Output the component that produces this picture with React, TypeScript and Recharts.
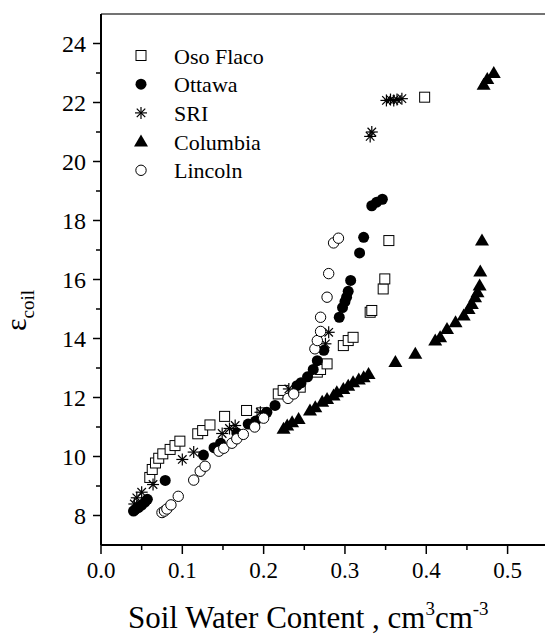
import { Legend, ReferenceLine, Scatter, ScatterChart, XAxis, YAxis } from "recharts";

const SERIF = "'Liberation Serif', 'Times New Roman', serif";

// soil water content (cm3/cm3), permittivity
const osoFlaco: [number, number][] = [
  [0.06, 9.29], [0.063, 9.56], [0.067, 9.78], [0.071, 9.94], [0.076, 10.09], [0.085, 10.24],
  [0.091, 10.37], [0.097, 10.52], [0.119, 10.77], [0.125, 10.88], [0.134, 11.07], [0.152, 11.36],
  [0.179, 11.56], [0.198, 11.48], [0.218, 12.12], [0.224, 12.24], [0.245, 12.35], [0.266, 12.86],
  [0.27, 12.95], [0.278, 13.14], [0.298, 13.76], [0.304, 13.93], [0.31, 14.04], [0.331, 14.89],
  [0.333, 14.95], [0.347, 15.68], [0.349, 16.02], [0.354, 17.32], [0.398, 22.18],
];
const ottawa: [number, number][] = [
  [0.04, 8.15], [0.042, 8.2], [0.046, 8.27], [0.05, 8.35], [0.054, 8.45], [0.057, 8.55],
  [0.079, 9.19], [0.126, 10.05], [0.139, 10.3], [0.147, 10.45], [0.167, 10.8], [0.181, 11.1],
  [0.19, 11.2], [0.204, 11.5], [0.214, 11.73], [0.241, 12.4], [0.246, 12.5], [0.254, 12.7],
  [0.261, 12.95], [0.266, 13.25], [0.274, 13.6], [0.293, 14.72], [0.297, 15.05], [0.3, 15.25],
  [0.302, 15.4], [0.304, 15.6], [0.307, 15.97], [0.318, 16.9], [0.323, 17.43], [0.333, 18.5],
  [0.339, 18.62], [0.346, 18.72],
];
const sri: [number, number][] = [
  [0.041, 8.39], [0.044, 8.6], [0.05, 8.79], [0.064, 9.05], [0.1, 9.9], [0.114, 10.15],
  [0.149, 10.78], [0.158, 10.95], [0.165, 11.05], [0.196, 11.5], [0.231, 12.29], [0.276, 13.82],
  [0.28, 14.21], [0.331, 20.85], [0.333, 21.0], [0.351, 22.07], [0.356, 22.1], [0.36, 22.07],
  [0.364, 22.1], [0.37, 22.13],
];
const columbia: [number, number][] = [
  [0.2245, 10.94], [0.229, 11.05], [0.235, 11.16], [0.243, 11.27], [0.257, 11.56], [0.2635, 11.67],
  [0.272, 11.86], [0.278, 11.95], [0.286, 12.07], [0.29, 12.18], [0.298, 12.29], [0.304, 12.4],
  [0.31, 12.52], [0.317, 12.61], [0.323, 12.69], [0.329, 12.8], [0.362, 13.2], [0.3865, 13.48],
  [0.411, 13.93], [0.417, 14.04], [0.4255, 14.32], [0.436, 14.55], [0.446, 14.78], [0.452, 15.0],
  [0.456, 15.17], [0.46, 15.4], [0.463, 15.57], [0.4656, 15.8], [0.4664, 16.27], [0.4685, 17.32],
  [0.4705, 22.6], [0.475, 22.8], [0.483, 23.0],
];
const lincoln: [number, number][] = [
  [0.075, 8.1], [0.078, 8.15], [0.081, 8.22], [0.086, 8.36], [0.095, 8.65], [0.114, 9.2],
  [0.122, 9.5], [0.128, 9.67], [0.145, 10.18], [0.151, 10.28], [0.161, 10.45], [0.167, 10.6],
  [0.175, 10.75], [0.189, 11.0], [0.2, 11.3], [0.23, 11.97], [0.237, 12.12], [0.263, 13.65],
  [0.266, 13.93], [0.27, 14.24], [0.27, 14.72], [0.278, 15.4], [0.28, 16.2], [0.286, 17.24],
  [0.292, 17.4],
];

const seriesNames = ["Oso Flaco", "Ottawa", "SRI", "Columbia", "Lincoln"];
const xTicks = [0, 0.05, 0.1, 0.15, 0.2, 0.25, 0.3, 0.35, 0.4, 0.45, 0.5];
const yTicks = [8, 9, 10, 11, 12, 13, 14, 15, 16, 17, 18, 19, 20, 21, 22, 23, 24];

const pts = (a: [number, number][]) => a.map(([x, y]) => ({ x, y }));

type Kind = "square" | "dot" | "star" | "tri" | "ring";

function Marker({ kind, cx, cy }: { kind: Kind; cx: number; cy: number }) {
  if (kind === "square")
    return <rect x={cx - 5} y={cy - 5} width={10} height={10} fill="#fff" stroke="#000" strokeWidth={1} />;
  if (kind === "dot") return <circle cx={cx} cy={cy} r={5.5} fill="#000" />;
  if (kind === "ring") return <circle cx={cx} cy={cy} r={5.2} fill="#fff" stroke="#000" strokeWidth={1} />;
  if (kind === "tri")
    return <polygon points={`${cx},${cy - 7} ${cx - 7},${cy + 5} ${cx + 7},${cy + 5}`} fill="#000" />;
  const r = 6;
  const d = r * 0.707;
  return (
    <g stroke="#000" strokeWidth={1.2}>
      <line x1={cx - r} y1={cy} x2={cx + r} y2={cy} />
      <line x1={cx} y1={cy - r} x2={cx} y2={cy + r} />
      <line x1={cx - d} y1={cy - d} x2={cx + d} y2={cy + d} />
      <line x1={cx - d} y1={cy + d} x2={cx + d} y2={cy - d} />
    </g>
  );
}

const kinds: Record<string, Kind> = {
  "Oso Flaco": "square",
  Ottawa: "dot",
  SRI: "star",
  Columbia: "tri",
  Lincoln: "ring",
};

const shapeOf = (kind: Kind) => (p: any) => <Marker kind={kind} cx={p.cx} cy={p.cy} />;

function XTick(props: any) {
  const { x, y, payload } = props;
  const v = payload.value as number;
  const major = Math.abs(v * 10 - Math.round(v * 10)) < 1e-6;
  return (
    <g>
      <line x1={x} x2={x} y1={y} y2={y + (major ? 9 : 5)} stroke="#000" strokeWidth={1.5} />
      {major ? (
        <text x={x} y={y + 33} textAnchor="middle" fontSize={23} fontFamily={SERIF} fill="#000">
          {v.toFixed(1)}
        </text>
      ) : null}
    </g>
  );
}

function YTick(props: any) {
  const { x, y, payload } = props;
  const v = payload.value as number;
  const major = v % 2 === 0;
  return (
    <g>
      <line x1={x - (major ? 8 : 5)} x2={x} y1={y} y2={y} stroke="#000" strokeWidth={1.5} />
      {major ? (
        <text x={x - 15} y={y + 8} textAnchor="end" fontSize={24} fontFamily={SERIF} fill="#000">
          {v}
        </text>
      ) : null}
    </g>
  );
}

// legend keeps the series order (recharts would sort it by name)
function LegendBox() {
  return (
    <svg width={200} height={150}>
      {seriesNames.map((name, i) => {
        const cy = 15.5 + i * 28.7;
        return (
          <g key={name}>
            <Marker kind={kinds[name]} cx={8} cy={cy} />
            <text x={41} y={cy + 8} fontSize={22} fontFamily={SERIF} fill="#000">
              {name}
            </text>
          </g>
        );
      })}
    </svg>
  );
}

export default function App() {
  return (
    <div style={{ position: "absolute", left: 0, top: 0, background: "#fff" }}>
      <ScatterChart width={545} height={637} margin={{ top: 14, right: 0, bottom: 0, left: 0 }}>
        <XAxis
          type="number"
          dataKey="x"
          domain={[0, 0.546]}
          allowDataOverflow
          ticks={xTicks}
          interval={0}
          tickSize={0}
          tickMargin={0}
          tickLine={false}
          tick={<XTick />}
          height={92}
          axisLine={{ stroke: "#000", strokeWidth: 2 }}
          label={{
            content: () => (
              <text x={128} y={628} fontSize={31} fontFamily={SERIF} fill="#000">
                Soil Water Content , cm
                <tspan fontSize={19} dy={-13}>3</tspan>
                <tspan dy={13}>cm</tspan>
                <tspan fontSize={19} dy={-13}>-3</tspan>
              </text>
            ),
          }}
        />
        <YAxis
          type="number"
          dataKey="y"
          domain={[7, 25]}
          allowDataOverflow
          ticks={yTicks}
          interval={0}
          tickSize={0}
          tickMargin={0}
          tickLine={false}
          tick={<YTick />}
          width={101}
          axisLine={{ stroke: "#000", strokeWidth: 2 }}
          label={{
            content: () => (
              <text transform="translate(26,331) rotate(-90)" fontFamily={SERIF} fill="#000">
                <tspan fontSize={30}>ε</tspan>
                <tspan fontSize={19} dy={8}>coil</tspan>
              </text>
            ),
          }}
        />
        <ReferenceLine y={25} stroke="#444" strokeWidth={1.5} />
        <Legend
          layout="vertical"
          align="center"
          verticalAlign="middle"
          content={<LegendBox />}
          wrapperStyle={{ position: "absolute", left: 133, top: 40, width: 200, height: 150 }}
        />
        <Scatter name="Oso Flaco" data={pts(osoFlaco)} shape={shapeOf("square")} isAnimationActive={false} />
        <Scatter name="Ottawa" data={pts(ottawa)} shape={shapeOf("dot")} isAnimationActive={false} />
        <Scatter name="SRI" data={pts(sri)} shape={shapeOf("star")} isAnimationActive={false} />
        <Scatter name="Columbia" data={pts(columbia)} shape={shapeOf("tri")} isAnimationActive={false} />
        <Scatter name="Lincoln" data={pts(lincoln)} shape={shapeOf("ring")} isAnimationActive={false} />
      </ScatterChart>
    </div>
  );
}
